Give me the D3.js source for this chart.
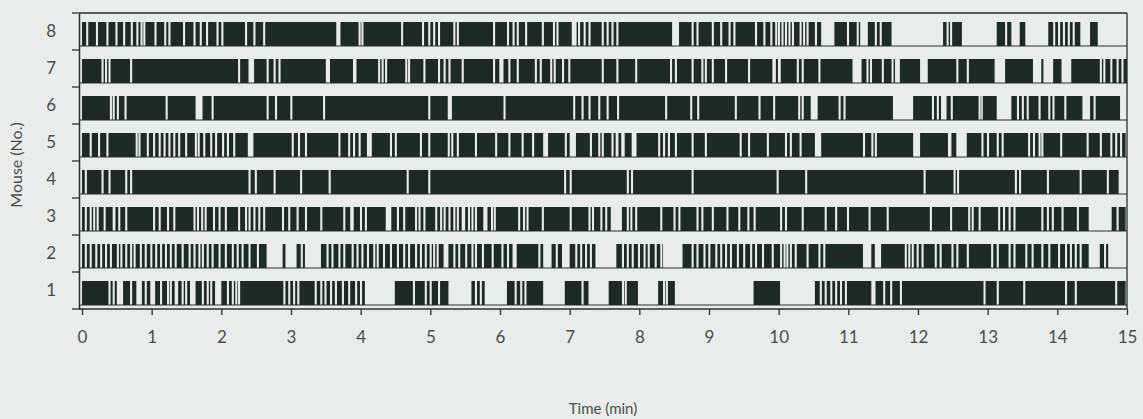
<!DOCTYPE html>
<html><head><meta charset="utf-8">
<script src="https://cdn.jsdelivr.net/npm/d3@7"></script>
<style>
html,body{margin:0;padding:0;background:#e9ecea;}
svg{display:block;}
text{font-family:Lato,"Open Sans",sans-serif;}
</style></head>
<body><svg id="chart" width="1143" height="419"></svg>
<script>
// ---- data (minutes) ----
const mice = ["8","7","6","5","4","3","2","1"];
const xTicks = [0,1,2,3,4,5,6,7,8,9,10,11,12,13,14,15];
const BRIEF = 0.03; // duration of a brief pause (min)
// pauses: a number = brief pause starting there, a pair = [start, end]
const pauses8 = [0.06,0.20,0.35,0.48,0.59,0.70,0.78,0.84,0.88,1.04,1.18,1.24,1.45,1.60,1.69,1.78,1.93,2.00,2.34,2.46,2.60,[3.65,3.71],3.97,4.01,4.58,4.88,4.97,5.04,5.11,5.33,5.38,5.90,6.10,6.18,6.24,6.36,6.60,6.76,6.81,[7.03,7.10],7.12,7.20,7.27,7.46,7.53,7.60,7.67,[8.47,8.57],8.75,8.82,9.04,9.16,9.28,9.35,9.66,9.78,9.88,9.95,9.99,10.04,10.09,10.14,10.19,10.30,10.35,10.40,10.52,[10.61,10.80],10.98,11.12,[11.17,11.28],11.38,11.45,[11.62,12.36],12.41,12.46,[12.63,13.13],13.25,[13.34,13.46],[13.54,13.87],13.94,14.01,14.08,14.15,14.22,[14.33,14.47]];
const pauses7 = [0.28,0.33,0.38,0.69,2.24,[2.39,2.47],2.65,2.75,2.82,[3.50,3.56],[3.89,3.94],4.25,4.30,4.35,4.64,4.68,4.90,5.11,5.19,5.26,5.45,5.90,[5.99,6.05],6.12,6.24,6.50,6.57,6.72,6.77,6.89,6.98,7.46,7.67,7.94,8.44,8.51,8.75,8.89,8.94,9.04,9.23,9.56,[9.91,9.96],[9.99,10.03],10.26,10.33,10.57,[11.06,11.19],11.26,11.31,11.48,11.62,[11.67,11.74],[12.03,12.14],12.55,12.70,[13.10,13.25],[13.65,13.77],[13.80,13.94],[14.06,14.20],14.61,14.66,14.76,14.85,14.92];
const pauses6 = [0.40,0.44,0.50,0.61,1.20,[1.63,1.73],1.86,2.65,2.77,2.99,3.46,4.97,5.25,5.28,6.05,7.05,7.17,7.27,7.41,7.53,[7.68,7.71],8.37,8.73,[8.83,8.86],9.37,9.71,9.92,10.28,10.33,[10.46,10.56],10.86,10.93,[11.64,11.93],12.20,12.27,[12.33,12.41],12.47,12.87,12.90,[13.13,13.34],13.42,13.49,13.56,13.73,13.87,13.93,14.10,[14.36,14.47],14.52];
const pauses5 = [0.11,0.23,0.35,0.77,0.81,0.93,1.02,1.10,1.17,1.24,1.31,1.38,1.48,1.62,1.66,1.74,1.84,1.91,2.01,2.08,2.17,[2.38,2.46],3.01,3.10,3.20,3.68,3.82,3.89,3.97,[4.09,4.16],4.42,4.49,4.85,4.97,5.25,5.30,5.38,5.64,5.93,6.12,6.31,6.46,[6.62,6.69],6.93,[7.00,7.09],7.29,7.41,7.46,7.60,[7.66,7.70],[7.74,7.79],[7.89,7.96],8.27,8.34,8.41,8.51,8.75,8.94,9.44,9.56,9.83,10.09,10.16,10.30,[10.52,10.61],11.21,11.33,11.38,[11.93,12.03],[12.43,12.48],[12.55,12.70],12.91,12.99,13.13,13.20,13.58,13.65,13.73,13.77,14.04,14.42,14.61,14.76,14.83,14.90];
const pauses4 = [0.04,0.28,0.38,0.62,0.69,2.39,2.48,2.75,3.13,3.54,4.66,4.97,6.92,7.00,7.82,7.88,8.75,9.97,10.38,12.08,12.51,12.56,13.39,13.45,13.85,14.32,14.71];
const pauses3 = [0.04,0.11,0.16,0.21,0.31,[0.44,0.48],0.52,0.62,1.02,1.10,1.22,1.31,1.60,1.65,1.71,1.76,1.88,1.96,2.05,2.24,2.34,2.39,2.46,2.53,2.60,2.87,2.96,3.08,3.20,3.42,3.75,[3.85,3.90],3.99,4.06,[4.36,4.44],4.52,4.61,4.78,4.83,4.90,5.07,5.14,5.19,5.26,5.33,5.38,[5.45,5.50],5.54,5.59,5.64,[5.76,5.82],5.87,5.91,6.26,6.33,6.38,6.60,7.00,7.27,7.32,7.44,7.51,[7.59,7.75],7.82,7.87,7.94,8.30,8.49,8.56,8.82,8.89,9.04,9.25,9.42,9.55,9.64,10.02,10.09,10.33,10.66,10.81,10.98,11.29,11.55,12.17,12.46,12.72,12.77,12.87,13.15,13.22,13.30,13.37,13.77,13.85,13.92,14.06,14.28,[14.45,14.78],14.85];
const pauses2 = [0.04,0.11,0.19,0.26,0.33,0.40,0.50,0.55,0.62,0.69,0.74,0.83,0.90,0.98,1.05,1.12,1.19,1.26,1.33,1.43,1.53,1.60,1.67,1.72,1.79,1.86,1.96,2.05,2.15,2.22,2.29,2.39,2.51,[2.65,2.88],[2.92,3.08],3.14,[3.20,3.43],3.51,3.58,3.68,3.75,3.87,3.94,4.01,4.09,4.18,4.23,4.32,4.42,4.52,4.61,4.68,4.78,4.85,4.92,4.99,5.04,5.09,[5.19,5.26],5.33,5.40,5.50,5.59,5.64,5.74,5.88,6.02,6.10,[6.18,6.24],6.55,[6.62,6.74],6.80,[6.89,7.00],7.08,7.15,7.22,7.29,[7.37,7.67],7.75,7.82,7.89,7.98,8.06,8.12,8.22,8.30,[8.34,8.62],8.75,8.82,8.92,8.99,9.09,9.16,9.23,9.30,9.40,9.49,9.59,9.66,9.76,9.90,10.02,10.07,10.11,10.16,10.23,10.40,10.57,10.64,[11.21,11.33],[11.38,11.47],11.81,11.86,11.91,11.98,12.05,12.24,12.31,12.48,12.55,12.70,13.05,13.13,13.30,13.37,13.54,13.63,13.77,13.87,14.01,14.11,14.18,14.25,14.32,[14.45,14.61],14.67];
const pauses1 = [0.38,0.44,[0.50,0.59],0.69,[0.78,0.86],0.90,[0.98,1.05],1.12,1.22,1.26,[1.33,1.38],1.43,1.48,[1.55,1.63],1.72,1.79,1.84,[1.91,2.00],2.08,2.15,2.20,2.24,2.89,2.96,3.03,3.09,3.34,3.42,3.48,3.56,3.63,3.73,3.82,3.92,3.99,[4.06,4.49],4.75,4.92,4.99,5.11,[5.26,5.59],5.64,5.71,[5.78,6.10],6.21,6.29,6.35,[6.62,6.93],7.17,[7.27,7.56],7.75,7.79,[7.98,8.27],8.34,8.38,[8.51,9.64],[10.02,10.52],10.59,10.66,10.74,10.81,10.88,10.95,[11.33,11.39],11.50,11.60,11.74,12.94,13.13,13.51,14.11,14.25,14.83];
const sessionEnd = [14.58, 15.0, 14.90, 14.98, 14.88, 14.98, 14.73, 14.98]; // mice 8..1
const pausesByMouse = [pauses8,pauses7,pauses6,pauses5,pauses4,pauses3,pauses2,pauses1];

// ---- build activity bouts (complement of pauses) ----
const bouts = [];
mice.forEach((m,i)=>{
  const gaps = pausesByMouse[i].map(g=>Array.isArray(g)?g:[g,g+BRIEF]).sort((a,b)=>a[0]-b[0]);
  let t = 0;
  gaps.forEach(([s,e])=>{ if(s>t) bouts.push({mouse:m,start:t,end:s}); t=Math.max(t,e); });
  if(sessionEnd[i]>t) bouts.push({mouse:m,start:t,end:sessionEnd[i]});
});

// ---- drawing ----
const ink = "#1f2a27", axisCol = "#2c2f2e", textCol = "#4a4d4c";
const svg = d3.select("#chart");
const x = d3.scaleLinear().domain([0,15]).range([82,1127]);
const y = d3.scaleBand().domain(mice).range([13,309]);
const bw = y.bandwidth();
const barTop = 9, barBottom = 4;

svg.append("rect").attr("width",1143).attr("height",419).attr("fill","#e9ecea");

// frame
svg.append("line").attr("x1",79).attr("x2",x(15)).attr("y1",13).attr("y2",13).attr("stroke",axisCol).attr("stroke-width",1.3);
svg.append("line").attr("x1",x(15)).attr("x2",x(15)).attr("y1",13).attr("y2",309).attr("stroke",axisCol).attr("stroke-width",1.3);

// baselines
svg.append("g").selectAll("line").data(mice).join("line")
  .attr("x1",79).attr("x2",x(15))
  .attr("y1",d=>y(d)+bw-barBottom).attr("y2",d=>y(d)+bw-barBottom)
  .attr("stroke",axisCol).attr("stroke-width",1.2);

// bouts
svg.append("g").selectAll("rect").data(bouts).join("rect")
  .attr("x",d=>x(d.start)).attr("width",d=>Math.max(0.5,x(d.end)-x(d.start)))
  .attr("y",d=>y(d.mouse)+barTop).attr("height",bw-barTop-barBottom)
  .attr("fill",ink);

// y axis
const yAxis = svg.append("g").attr("transform","translate(79,0)")
  .call(d3.axisLeft(y).tickSize(0).tickPadding(23));
yAxis.select(".domain").attr("stroke",axisCol).attr("stroke-width",1.5);
yAxis.selectAll("text").attr("font-size",17).attr("fill",textCol);
svg.append("g").selectAll("line").data(d3.range(mice.length+1)).join("line")
  .attr("x1",72).attr("x2",79)
  .attr("y1",i=>13+i*bw).attr("y2",i=>13+i*bw)
  .attr("stroke",axisCol).attr("stroke-width",1.3);

// x axis
const xAxis = svg.append("g").attr("transform","translate(0,309)")
  .call(d3.axisBottom(x).tickValues(xTicks).tickFormat(d3.format("d")).tickSize(6).tickPadding(16).tickSizeOuter(0));
xAxis.select(".domain").attr("stroke",axisCol).attr("stroke-width",1.5).attr("d","M79,0H"+x(15));
xAxis.selectAll(".tick line").attr("stroke",axisCol).attr("stroke-width",1.3);
xAxis.selectAll("text").attr("font-size",17).attr("fill",textCol);

// titles
svg.append("text").attr("x",603).attr("y",414).attr("text-anchor","middle")
  .attr("font-size",15).attr("fill",textCol).text("Time (min)");
svg.append("text").attr("transform","translate(22,165) rotate(-90)").attr("text-anchor","middle")
  .attr("font-size",16).attr("fill",textCol).text("Mouse (No.)");
</script></body></html>
